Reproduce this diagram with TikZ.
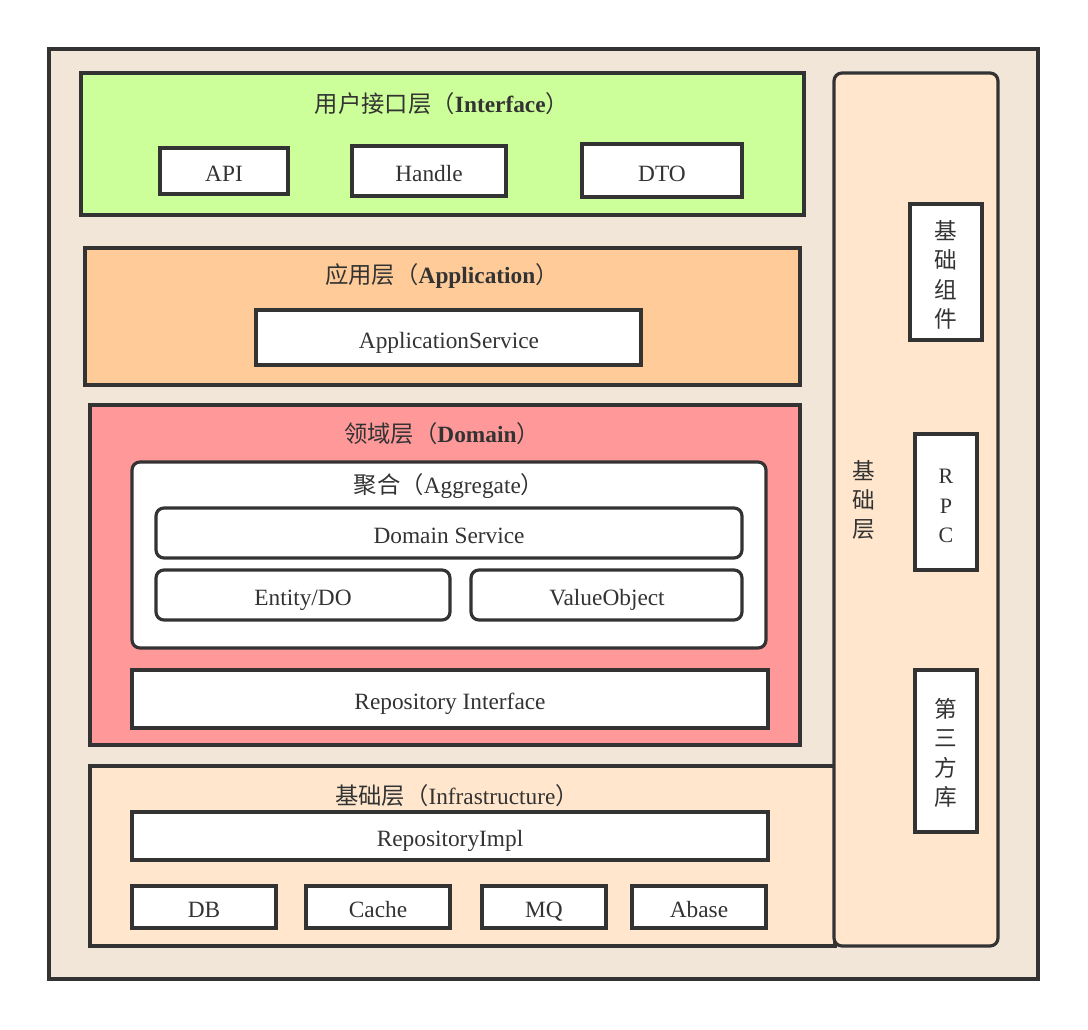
\documentclass[tikz,border=0pt]{standalone}
\usepackage{fontspec}
\setmainfont{Liberation Serif}
\newfontfamily\cjk{Noto Sans CJK SC}
\definecolor{dk}{HTML}{333333}
\definecolor{bgc}{HTML}{F2E6D9}
\definecolor{gr}{HTML}{CCFF99}
\definecolor{orc}{HTML}{FFCC99}
\definecolor{rdc}{HTML}{FF9999}
\definecolor{pch}{HTML}{FFE6CC}
\begin{document}
\begin{tikzpicture}[x=0.75pt,y=-0.75pt,
  frame/.style={draw=dk,line width=2.4pt},
  wbox/.style={frame,fill=white},
  rbox/.style={frame,fill=white,rounded corners=6pt},
  lbl/.style={text=dk,font=\fontsize{17.5}{20}\selectfont,inner sep=0pt,text height=11.5pt,text depth=0pt},
  ttl/.style={text=dk,font=\fontsize{17.5}{20}\selectfont,inner sep=0pt},
  vtxt/.style={text=dk,font=\fontsize{16.5}{22}\selectfont,align=center,inner sep=0pt},
  vcjk/.style={text=dk,font=\cjk\fontsize{17}{22}\selectfont,align=center,inner sep=0pt}]
\useasboundingbox (0,0) rectangle (1088,1030);
% outer
\draw[frame,fill=bgc] (49,49) rectangle (1038,979);
% interface layer
\draw[frame,fill=gr] (81,73) rectangle (804,215);
\node[ttl] (tif) at (442,104) {\cjk 用户接口层（\textbf{\rmfamily Interface}）};
\draw[wbox] (160,148) rectangle (288,194); \node[lbl] (api) at (224,174) {API};
\draw[wbox] (352,146) rectangle (506,196); \node[lbl] (hdl) at (429,174) {Handle};
\draw[wbox] (582,144) rectangle (742,197); \node[lbl] (dto) at (662,174) {DTO};
% application layer
\draw[frame,fill=orc] (85,248) rectangle (800,385);
\node[ttl] (tap) at (442,276) {\cjk 应用层（\textbf{\rmfamily Application}）};
\draw[wbox] (256,310) rectangle (641,365); \node[lbl] (aps) at (449,341) {ApplicationService};
% domain layer
\draw[frame,fill=rdc] (90,405) rectangle (800,745);
\node[ttl] (tdm) at (442,434) {\cjk 领域层（\textbf{\rmfamily Domain}）};
\draw[rbox] (132,462) rectangle (766,648);
\node[ttl] (tag) at (449,486) {\cjk 聚合（{\rmfamily Aggregate}）};
\draw[rbox] (156,508) rectangle (742,558); \node[lbl] (dsv) at (449,536) {Domain Service};
\draw[rbox] (156,570) rectangle (450,620); \node[lbl] (ent) at (303,598) {Entity/DO};
\draw[rbox] (471,570) rectangle (742,620); \node[lbl] (vob) at (607,598) {ValueObject};
\draw[wbox] (132,670) rectangle (768,728); \node[lbl] (rpi) at (450,702) {Repository Interface};
% infrastructure layer
\draw[frame,fill=pch] (90,766) rectangle (835,946);
\node[ttl] (tin) at (457,796) {\cjk 基础层（{\rmfamily Infrastructure}）};
\draw[wbox] (132,812) rectangle (768,860); \node[lbl] (rim) at (450,839) {RepositoryImpl};
\draw[wbox] (132,886) rectangle (276,928); \node[lbl] (db) at (204,910) {DB};
\draw[wbox] (306,886) rectangle (450,928); \node[lbl] (cch) at (378,910) {Cache};
\draw[wbox] (482,886) rectangle (606,928); \node[lbl] (mq) at (544,910) {MQ};
\draw[wbox] (632,886) rectangle (766,928); \node[lbl] (abs) at (699,910) {Abase};
% right column
\draw[frame,fill=pch,rounded corners=6pt] (834,73) rectangle (998,946);
\node[vcjk] (jcc) at (864,500) {基\\础\\层};
\draw[wbox] (910,204) rectangle (982,340); \node[vcjk] (jczj) at (946,275) {基\\础\\组\\件};
\draw[wbox] (915,434) rectangle (977,570); \node[vtxt] (rpc) at (946,506) {R\\P\\C};
\draw[wbox] (915,670) rectangle (977,832); \node[vcjk] (dsf) at (946,753) {第\\三\\方\\库};
\end{tikzpicture}
\end{document}
